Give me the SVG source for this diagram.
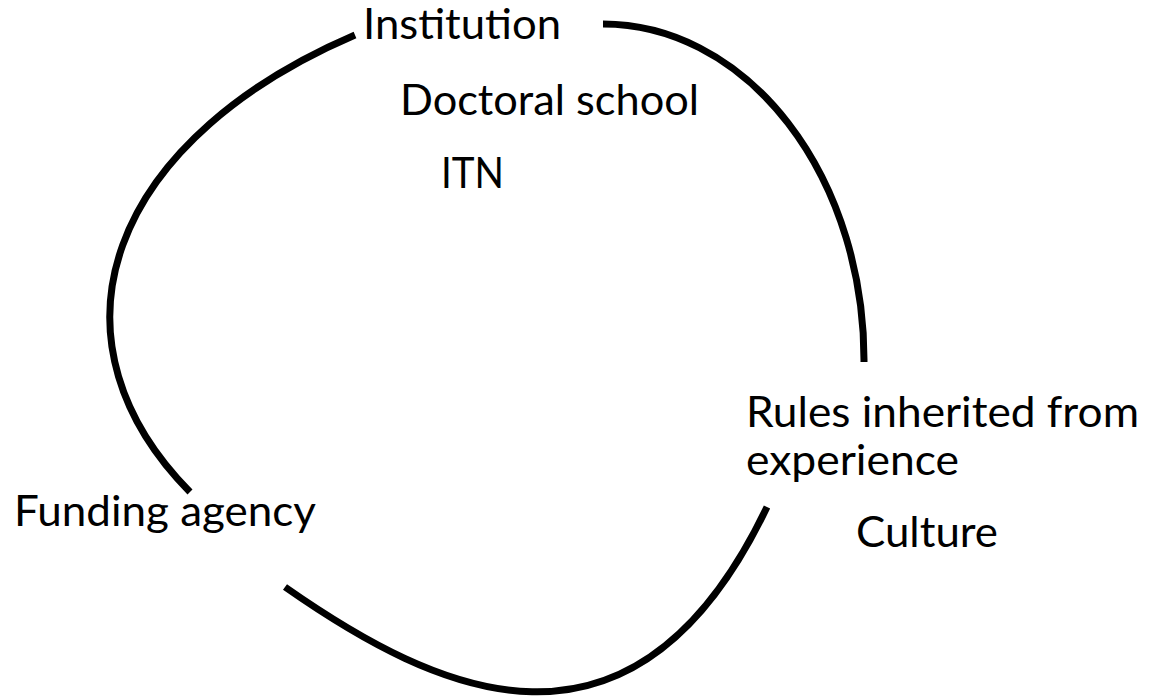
<svg xmlns="http://www.w3.org/2000/svg" width="1152" height="697" viewBox="0 0 1152 697">
<style>
.lbl{font-family:Lato,"Open Sans","Liberation Sans",sans-serif;font-size:42px;fill:#000}
.arc{fill:none;stroke:#000;stroke-width:7;stroke-linecap:butt}
</style>
<rect width="1152" height="697" fill="#fff"/>
<g id="connectors">
<path class="arc" d="M 355 35 A 600 350 0 0 0 190 492"/>
<path class="arc" d="M 603 24 A 261 336 0 0 1 864 362"/>
<path class="arc" d="M 285 587 C 435 692 633 788 767 507"/>
</g>
<g id="institution"><text class="lbl" x="363" y="39" textLength="198" lengthAdjust="spacingAndGlyphs">Institution</text></g>
<g id="doctoral-school"><text class="lbl" x="400" y="115" textLength="299" lengthAdjust="spacingAndGlyphs">Doctoral school</text></g>
<g id="itn"><text class="lbl" x="441" y="188" textLength="63" lengthAdjust="spacingAndGlyphs">ITN</text></g>
<g id="rules"><text class="lbl" x="746" y="427" textLength="393" lengthAdjust="spacingAndGlyphs">Rules inherited from</text><text class="lbl" x="746" y="475" textLength="213" lengthAdjust="spacingAndGlyphs">experience</text></g>
<g id="culture"><text class="lbl" x="856" y="547" textLength="142" lengthAdjust="spacingAndGlyphs">Culture</text></g>
<g id="funding-agency"><text class="lbl" x="14" y="526" textLength="302" lengthAdjust="spacingAndGlyphs">Funding agency</text></g>
</svg>
